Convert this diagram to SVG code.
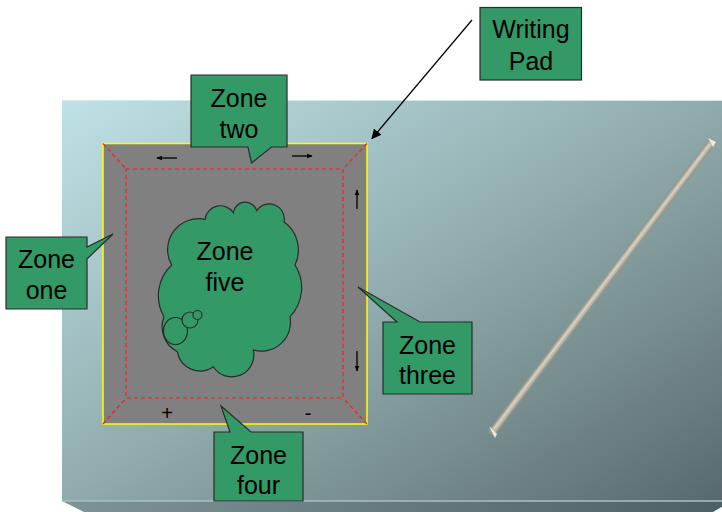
<svg xmlns="http://www.w3.org/2000/svg" width="722" height="512" viewBox="0 0 722 512">
  <defs>
    <linearGradient id="board" x1="0" y1="0" x2="1" y2="1">
      <stop offset="0" stop-color="#bfe2e6"/>
      <stop offset="0.5" stop-color="#90abad"/>
      <stop offset="1" stop-color="#59696b"/>
    </linearGradient>
    <linearGradient id="edge" x1="62" y1="500" x2="722" y2="512" gradientUnits="userSpaceOnUse">
      <stop offset="0" stop-color="#7d9496"/>
      <stop offset="1" stop-color="#4f6062"/>
    </linearGradient>
    <marker id="head" viewBox="0 0 10 10" refX="9" refY="5" markerWidth="10" markerHeight="10" markerUnits="userSpaceOnUse" orient="auto">
      <path d="M0,0 L10,5 L0,10 Z" fill="#000"/>
    </marker>
    <marker id="tick" viewBox="0 0 10 10" refX="9" refY="5" markerWidth="6" markerHeight="6" markerUnits="userSpaceOnUse" orient="auto">
      <path d="M0,1 L10,5 L0,9 Z" fill="#000"/>
    </marker>
  </defs>
  <style>
    .callout { fill: #339966; stroke: #2b2b2b; stroke-width: 1.2; }
    .label { font-family: "Liberation Sans", Arial, sans-serif; font-size: 25px; fill: #000; text-anchor: middle; }
    .sign { font-family: "Liberation Sans", Arial, sans-serif; font-size: 20px; fill: #000; text-anchor: middle; }
    .dash { stroke: #ff1a1a; stroke-width: 1.2; stroke-dasharray: 4 3; fill: none; }
    .dir { stroke: #000; stroke-width: 1.3; marker-end: url(#tick); }
  </style>

  <!-- white page -->
  <rect width="722" height="512" fill="#ffffff"/>

  <!-- desk surface with a bevelled front edge -->
  <g id="desk">
    <rect x="62" y="100" width="660" height="401" fill="url(#board)"/>
    <path d="M62,501 L732,501 L713,512 L84,512 Z" fill="url(#edge)"/>
    <line x1="62" y1="501" x2="722" y2="501" stroke="#a9c0c2" stroke-width="1.5"/>
    <line x1="62" y1="100.5" x2="722" y2="100.5" stroke="#d3e9eb" stroke-width="1"/>
  </g>

  <!-- stylus lying on the desk -->
  <g id="stylus">
    <line x1="493" y1="431" x2="711" y2="143" stroke="#9a9788" stroke-width="8" stroke-linecap="round"/>
    <line x1="493" y1="431" x2="711" y2="143" stroke="#bdbaab" stroke-width="5"/>
    <line x1="494" y1="429" x2="710" y2="144" stroke="#d6d3c6" stroke-width="1.5"/>
    <path d="M489,426 L497,434 L495,438 Z" fill="#eceadf"/>
    <path d="M708,138 L716,142 L713,147 Z" fill="#eceadf"/>
  </g>

  <!-- writing pad with its zone boundaries -->
  <g id="pad">
    <rect x="103" y="143.5" width="264" height="280.5" fill="#808080" stroke="#ffff00" stroke-width="1.5"/>
    <rect x="126" y="169" width="217" height="229" class="dash"/>
    <line x1="103" y1="143.5" x2="126" y2="169" class="dash"/>
    <line x1="367" y1="143.5" x2="343" y2="169" class="dash"/>
    <line x1="103" y1="424" x2="126" y2="398" class="dash"/>
    <line x1="367" y1="424" x2="343" y2="398" class="dash"/>
    <line x1="177" y1="158" x2="157" y2="158" class="dir"/>
    <line x1="292" y1="156" x2="312" y2="156" class="dir"/>
    <line x1="357" y1="209" x2="357" y2="190" class="dir"/>
    <line x1="357" y1="351" x2="357" y2="371" class="dir"/>
    <text x="167" y="420" class="sign">+</text>
    <text x="308" y="420" class="sign">-</text>
  </g>

  <!-- thought cloud for the central zone -->
  <g id="zone-five">
    <path class="callout" d="M171.7,265 A31,31 0 0 1 205,219.3 A15.5,15.5 0 0 1 233.3,212.7 A12,12 0 0 1 256.7,210.7 A15,15 0 0 1 284,221.7 A35,35 0 0 1 295,265 A42,42 0 0 1 290,316.7 A29,29 0 0 1 253.3,350 A22,22 0 0 1 213.3,366.7 A23,23 0 0 1 177.3,351.7 A28,28 0 0 1 164,316.7 A42,42 0 0 1 171.7,265 Z"/>
    <ellipse cx="175.5" cy="331" rx="12" ry="13.5" class="callout"/>
    <circle cx="190" cy="320" r="8" class="callout"/>
    <circle cx="197.5" cy="315" r="4.5" class="callout"/>
    <text x="225" y="260" class="label">Zone</text>
    <text x="225" y="291" class="label">five</text>
  </g>

  <!-- zone callouts -->
  <g id="zone-one">
    <path class="callout" d="M6,237 H87 V247 L113,234 L87,259 V309 H6 Z"/>
    <text x="46.5" y="268" class="label">Zone</text>
    <text x="46.5" y="299" class="label">one</text>
  </g>
  <g id="zone-two">
    <path class="callout" d="M191,75 H287 V147 H271.5 L251.5,163 L248,147 H191 Z"/>
    <text x="239" y="107" class="label">Zone</text>
    <text x="239" y="138" class="label">two</text>
  </g>
  <g id="zone-three">
    <path class="callout" d="M383,322 H397 L358,287 L420,322 H472 V394 H383 Z"/>
    <text x="427.5" y="354" class="label">Zone</text>
    <text x="427.5" y="384" class="label">three</text>
  </g>
  <g id="zone-four">
    <path class="callout" d="M214,432 H230 L221,406 L251,432 H303 V501 H214 Z"/>
    <text x="258.5" y="464" class="label">Zone</text>
    <text x="258.5" y="494" class="label">four</text>
  </g>
  <g id="writing-pad-label">
    <rect x="480" y="7.5" width="101.5" height="72.5" class="callout"/>
    <text x="531" y="38" class="label">Writing</text>
    <text x="531" y="70" class="label">Pad</text>
  </g>

  <!-- connector from the label to the pad corner -->
  <g id="connectors">
    <line x1="472" y1="20" x2="372" y2="138.5" stroke="#000" stroke-width="1.2" marker-end="url(#head)"/>
  </g>
</svg>
